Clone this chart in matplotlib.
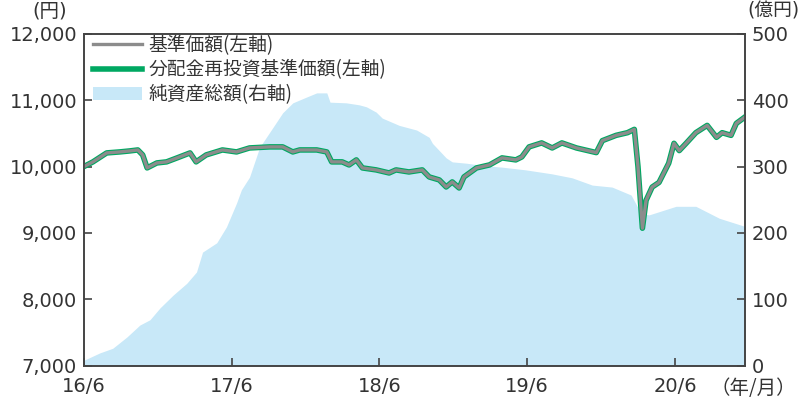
import pandas as pd
import matplotlib.pyplot as plt
from matplotlib.patches import Patch
from matplotlib.lines import Line2D

plt.rcParams['font.family'] = ['DejaVu Sans', 'Noto Sans CJK JP']
cjk = ['Noto Sans CJK JP', 'DejaVu Sans']

# 基準価額 / 分配金再投資基準価額 (円)
nav_dates = ['2016-06-01', '2016-06-23', '2016-07-27', '2016-08-28', '2016-09-22',
             '2016-10-12', '2016-10-24', '2016-11-04', '2016-11-28', '2016-12-22',
             '2017-01-17', '2017-02-18', '2017-03-05', '2017-03-30', '2017-05-09',
             '2017-06-13', '2017-07-15', '2017-09-03', '2017-10-05', '2017-10-30',
             '2017-11-16', '2017-12-28', '2018-01-22', '2018-02-03', '2018-03-01',
             '2018-03-18', '2018-04-05', '2018-04-20', '2018-05-24', '2018-06-25',
             '2018-07-12', '2018-08-13', '2018-09-15', '2018-10-02', '2018-10-27',
             '2018-11-13', '2018-11-28', '2018-12-15', '2018-12-27', '2019-01-27',
             '2019-02-28', '2019-03-31', '2019-05-04', '2019-05-19', '2019-06-06',
             '2019-07-07', '2019-08-02', '2019-08-26', '2019-10-01', '2019-11-19',
             '2019-12-04', '2020-01-07', '2020-02-04', '2020-02-21', '2020-03-01',
             '2020-03-12', '2020-03-21', '2020-04-05', '2020-04-22', '2020-05-16',
             '2020-05-29', '2020-06-11', '2020-06-28', '2020-07-22', '2020-08-19',
             '2020-09-11', '2020-09-25', '2020-10-17', '2020-10-30', '2020-11-19']
nav = [10000, 10070, 10205, 10220, 10235, 10250, 10175, 9979, 10054, 10070,
       10130, 10205, 10070, 10175, 10250, 10220, 10280, 10296, 10296, 10220,
       10250, 10250, 10220, 10070, 10070, 10024, 10100, 9979, 9949, 9903,
       9949, 9918, 9949, 9843, 9798, 9692, 9768, 9677, 9843, 9979,
       10024, 10130, 10100, 10145, 10296, 10356, 10280, 10356, 10280, 10210,
       10390, 10470, 10510, 10560, 10000, 9070, 9490, 9690, 9760, 10050,
       10350, 10240, 10350, 10510, 10620, 10440, 10510, 10470, 10650, 10740]
nav_reinv = list(nav)

# 純資産総額 (億円)
aum_dates = ['2016-06-01', '2016-07-10', '2016-08-11', '2016-09-15', '2016-10-17',
             '2016-11-11', '2016-12-06', '2017-01-07', '2017-02-10', '2017-03-06',
             '2017-03-21', '2017-04-25', '2017-05-19', '2017-06-13', '2017-06-25',
             '2017-07-15', '2017-08-09', '2017-09-11', '2017-10-05', '2017-10-30',
             '2017-12-04', '2017-12-28', '2018-01-22', '2018-01-30', '2018-03-11',
             '2018-04-12', '2018-04-30', '2018-05-24', '2018-06-08', '2018-07-20',
             '2018-09-01', '2018-10-02', '2018-10-10', '2018-11-13', '2018-11-28',
             '2019-01-02', '2019-02-21', '2019-04-01', '2019-05-28', '2019-08-01',
             '2019-09-20', '2019-11-09', '2019-12-28', '2020-02-13', '2020-03-08',
             '2020-03-28', '2020-06-03', '2020-07-22', '2020-09-18', '2020-11-19']
aum = [8, 19, 26, 43, 61, 69, 87, 106, 124, 141,
       171, 185, 209, 245, 265, 284, 329, 359, 381, 396,
       405, 411, 411, 397, 396, 393, 390, 382, 373, 362,
       355, 344, 335, 313, 307, 305, 301, 299, 295, 289,
       283, 272, 269, 257, 230, 227, 240, 240, 222, 210]

x_ticks = ['2016-06-01', '2017-06-01', '2018-06-01', '2019-06-01', '2020-06-01']
x_labels = ['16/6', '17/6', '18/6', '19/6', '20/6']

nav_dates = pd.to_datetime(nav_dates)
aum_dates = pd.to_datetime(aum_dates)

txt = '#333333'
fig = plt.figure(figsize=(8, 4.03), dpi=100)
ax = fig.add_axes([0.105, 0.093, 0.826, 0.823])
ax2 = ax.twinx()

ax2.fill_between(aum_dates, 0, aum, color='#c8e8f8', lw=0)
ax2.set_ylim(0, 500)
ax2.set_yticks([0, 100, 200, 300, 400, 500])

ax.plot(nav_dates, nav_reinv, color='#00a862', lw=4.0, solid_joinstyle='round')
ax.plot(nav_dates, nav, color='#8c8c8c', lw=2.4, solid_joinstyle='round')
ax.set_ylim(7000, 12000)
ax.set_yticks([7000, 8000, 9000, 10000, 11000, 12000])
ax.yaxis.set_major_formatter(plt.FuncFormatter(lambda v, p: f'{int(v):,}'))
ax.set_xlim(pd.Timestamp('2016-06-01'), pd.Timestamp('2020-11-20'))
ax.set_xticks(pd.to_datetime(x_ticks))
ax.set_xticklabels(x_labels)

ax.set_zorder(ax2.get_zorder() + 1)
ax.patch.set_visible(False)

for a in (ax, ax2):
    for s in a.spines.values():
        s.set_color('#444444')
        s.set_linewidth(1.2)
    a.tick_params(direction='in', length=6, width=1.2, color='#444444',
                  labelsize=14, labelcolor=txt, pad=5)
ax.tick_params(axis='x', pad=8)

fig.text(0.041, 0.972, '(円)', fontsize=14, color=txt, ha='left', va='center')
fig.text(0.999, 0.972, '(億円)', fontsize=13.5, color=txt, ha='right', va='center')
fig.text(0.995, 0.036, '（年/月）', fontsize=14, color=txt, ha='right', va='center',
         family=cjk)

handles = [Line2D([], [], color='#8c8c8c', lw=2.4),
           Line2D([], [], color='#00a862', lw=4.0),
           Patch(facecolor='#c8e8f8', edgecolor='none')]
labels = ['基準価額(左軸)', '分配金再投資基準価額(左軸)', '純資産総額(右軸)']
ax.legend(handles, labels, loc='upper left', frameon=False,
          prop={'family': cjk, 'size': 13.5},
          labelcolor=txt, handlelength=2.6, handletextpad=0.35,
          labelspacing=0.18, borderaxespad=0.1, bbox_to_anchor=(0.0, 1.025))

fig.savefig('out.png', dpi=100)
